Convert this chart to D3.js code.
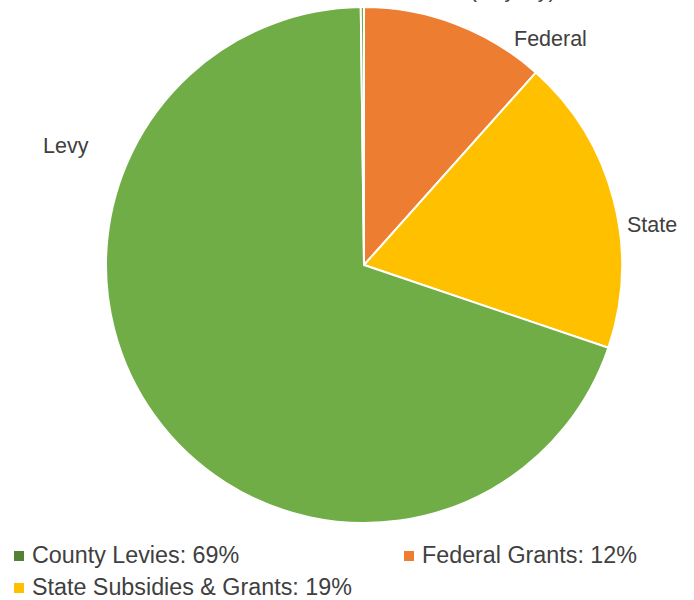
<!DOCTYPE html>
<html><head><meta charset="utf-8">
<script src="https://cdn.jsdelivr.net/npm/d3@7"></script>
<style>body{margin:0;background:#fff}svg{display:block}text{font-family:"Liberation Sans",Arial,sans-serif;fill:#404040}</style>
</head><body><svg id="c" width="694" height="600"></svg>
<script>
const categories = ["Federal", "State", "Levy", "Other"];
const values = [11.6, 18.6, 69.6, 0.2];
const sliceColors = ["#ED7D31", "#FFC000", "#70AD47", "#70AD47"];
const sliceLabels = ["Federal", "State", "Levy", "Other (Royalty)"];
const legendLabels = ["County Levies: 69%", "Federal Grants: 12%", "State Subsidies & Grants: 19%"];
const legendColors = ["#548235", "#ED7D31", "#FFC000"];

const svg = d3.select("#c");
const cx = 364, cy = 265, r = 258;
const pie = d3.pie().sort(null).value(d => d)(values);
const arc = d3.arc().innerRadius(0).outerRadius(r);
const g = svg.append("g").attr("transform", `translate(${cx},${cy})`);
g.selectAll("path").data(pie).join("path")
  .attr("d", arc).attr("fill", (d,i) => sliceColors[i])
  .attr("stroke", "#fff").attr("stroke-width", 2).attr("stroke-linejoin","round");

// labels outside
const labelPos = [[514, 46, "start"], [627, 232, "start"], [43, 153, "start"], [410, -3, "start"]];
sliceLabels.forEach((t, i) => {
  svg.append("text").attr("x", labelPos[i][0]).attr("y", labelPos[i][1])
    .attr("text-anchor", labelPos[i][2]).attr("font-size", 21.5).text(t);
});

// legend
const legPos = [[14, 563], [404, 563], [14, 595]];
legendLabels.forEach((t, i) => {
  const [x, y] = legPos[i];
  svg.append("rect").attr("x", x).attr("y", y - 12).attr("width", 10).attr("height", 10).attr("fill", legendColors[i]);
  svg.append("text").attr("x", x + 18).attr("y", y).attr("font-size", 23.3).text(t);
});
</script></body></html>
